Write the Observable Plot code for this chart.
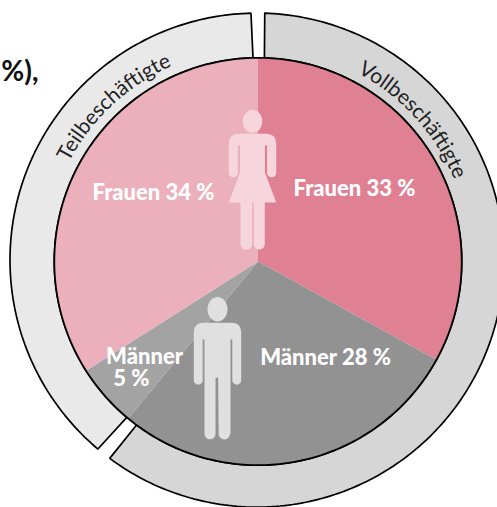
<!DOCTYPE html>
<html lang="de">
<head>
<meta charset="utf-8">
<style>
html,body{margin:0;padding:0;background:#fff;overflow:hidden}
svg{display:block}
</style>
<script src="https://cdn.jsdelivr.net/npm/d3@7"></script>
<script src="https://cdn.jsdelivr.net/npm/@observablehq/plot@0.6"></script>
</head>
<body>
<div id="chart"></div>
<script>
// ---- values ----
const sliceNames  = ["Frauen Vollzeit", "Männer Vollzeit", "Männer Teilzeit", "Frauen Teilzeit"];
const sliceShares = [33, 28, 5, 34];
const ringNames   = ["Vollbeschäftigte", "Teilbeschäftigte"];
const labelTexts  = ["Frauen 34 %", "Frauen 33 %", "Männer 28 %", "Männer\n5 %\u00a0\u00a0\u00a0\u00a0\u00a0"];
const titleTail   = "%),";

// ---- styles and layout, kept apart from the values ----
const W = 497, H = 507;
const sliceColors = ["#df8093", "#929292", "#a3a3a3", "#ecb0bd"];
const ringColors  = ["#d6d6d6", "#e9e9e9"];
const CX = 257.5, CY = 261, R = 203.7, RO = 247;
const ringOffset = [-1, -1.4];
const ringSpans = [[1.8, 216.6], [220.1, 358.6]];     // degrees clockwise from the top
const ringTextSpans = [[29.5, 66], [-61.5, -24.5]];
const ringTextRadius = 213;
const labelX = [153, 354, 325, 144];
const labelY = [200, 196, 365, 386];
const FONT = "Lato, 'Open Sans', sans-serif";

const pt = (deg, r, ox = 0, oy = 0) => {
  const a = deg * Math.PI / 180;
  return [ox + r * Math.sin(a), oy - r * Math.cos(a)];
};
const arc = (a0, a1, r, ox, oy) => {
  const n = Math.max(2, Math.ceil(Math.abs(a1 - a0)));
  return d3.range(n + 1).map(i => pt(a0 + (a1 - a0) * i / n, r, ox, oy));
};

// pie slices
let acc = 0;
const slicePoly = [];
sliceShares.forEach((s, i) => {
  const a0 = acc * 3.6, a1 = (acc + s) * 3.6; acc += s;
  [[0, 0], ...arc(a0, a1, R), [0, 0]].forEach(([x, y]) =>
    slicePoly.push({x, y, key: sliceNames[i], fill: sliceColors[i]}));
});
// ring segments
const ringPoly = [];
ringSpans.forEach(([a0, a1], i) => {
  const pts = [...arc(a0, a1, RO, ringOffset[0], ringOffset[1]), ...arc(a1, a0, R)];
  [...pts, pts[0]].forEach(([x, y]) =>
    ringPoly.push({x, y, key: ringNames[i], fill: ringColors[i]}));
});
const circle = arc(0, 360, R).map(([x, y]) => ({x, y}));

// pictograms as custom symbols, drawn relative to the dot's position
const head = (c, cy, rx, ry) => {
  c.moveTo(rx, cy);
  for (let k = 1; k <= 48; k++) {
    const t = k / 48 * 2 * Math.PI;
    c.lineTo(rx * Math.cos(t), cy + ry * Math.sin(t));
  }
  c.closePath();
};
const personWoman = {
  draw(c) {
    head(c, -65.2, 9.7, 11.5);
    c.moveTo(-13.7, -52.7);
    c.lineTo(13.7, -52.7);
    c.quadraticCurveTo(23.7, -52.7, 23.7, -42.7);
    c.lineTo(23.7, -13.7);
    c.arc(19.15, -13.7, 4.55, 0, Math.PI);
    c.lineTo(14.6, -41);
    c.lineTo(12.4, -41);
    c.lineTo(12.4, -14);
    c.lineTo(23.7, 16);
    c.lineTo(12.3, 16);
    c.lineTo(12.3, 57.5);
    c.arc(6.8, 57.5, 5.5, 0, Math.PI);
    c.lineTo(1.3, 16);
    c.lineTo(-0.3, 16);
    c.lineTo(-0.3, 57.5);
    c.arc(-6.15, 57.5, 5.85, 0, Math.PI);
    c.lineTo(-12, 16);
    c.lineTo(-23.7, 16);
    c.lineTo(-12.4, -14);
    c.lineTo(-12.4, -41);
    c.lineTo(-14.6, -41);
    c.lineTo(-14.6, -13.7);
    c.arc(-19.15, -13.7, 4.55, 0, Math.PI);
    c.lineTo(-23.7, -42.7);
    c.quadraticCurveTo(-23.7, -52.7, -13.7, -52.7);
    c.closePath();
  }
};
const personMan = {
  draw(c) {
    head(c, -64.2, 10, 12.2);
    c.moveTo(-14, -50.7);
    c.lineTo(14, -50.7);
    c.quadraticCurveTo(23.7, -50.7, 23.7, -41);
    c.lineTo(23.7, 6.7);
    c.arc(19.25, 6.7, 4.45, 0, Math.PI);
    c.lineTo(14.8, -34);
    c.lineTo(13, -34);
    c.lineTo(13, 60.3);
    c.arc(6.85, 60.3, 5.7, 0, Math.PI);
    c.lineTo(0.7, 4.3);
    c.lineTo(-2, 4.3);
    c.lineTo(-2, 60.3);
    c.arc(-7.5, 60.3, 5.5, 0, Math.PI);
    c.lineTo(-13, -34);
    c.lineTo(-14.8, -34);
    c.lineTo(-14.8, 6.7);
    c.arc(-19.25, 6.7, 4.45, 0, Math.PI);
    c.lineTo(-23.7, -41);
    c.quadraticCurveTo(-23.7, -50.7, -14, -50.7);
    c.closePath();
  }
};

// curved ring captions: one real <text> each, its path built through the plot's scales
function ringCaptions(index, scales) {
  const g = d3.create("svg:g");
  ringNames.forEach((name, i) => {
    const [a0, a1] = ringTextSpans[i];
    const p = d3.path();
    arc(a0 - 6, a1 + 6, ringTextRadius).forEach(([x, y], k) =>
      k ? p.lineTo(scales.x(x), scales.y(y)) : p.moveTo(scales.x(x), scales.y(y)));
    const id = "ring-text-" + i;
    g.append("path").attr("id", id).attr("d", p.toString()).attr("fill", "none");
    g.append("text")
      .attr("font-family", FONT).attr("font-size", 21).attr("fill", "#222")
      .attr("text-anchor", "middle")
      .append("textPath").attr("href", "#" + id).attr("startOffset", "50%").text(name);
  });
  return g.node();
}

const labels = labelTexts.map((t, i) => ({t, x: labelX[i] - CX, y: labelY[i] - CY}));

const plot = Plot.plot({
  width: W, height: H,
  margin: 0,
  style: {background: "#fff", overflow: "hidden"},
  x: {domain: [-CX, W - CX], range: [0, W], axis: null},
  y: {domain: [-CY, H - CY], range: [0, H], axis: null},
  marks: [
    Plot.line(ringPoly, {x: "x", y: "y", z: "key", fill: "fill", stroke: "#000", strokeWidth: 1.7, curve: "linear", strokeLinejoin: "miter"}),
    Plot.line(slicePoly, {x: "x", y: "y", z: "key", fill: "fill", stroke: "none", curve: "linear"}),
    Plot.line(circle, {x: "x", y: "y", stroke: "#000", strokeWidth: 1.8, curve: "linear"}),
    Plot.dot([{x: 252 - CX, y: 186 - CY}], {x: "x", y: "y", symbol: personWoman, r: 10, fill: "#f6d5dd", stroke: "none"}),
    Plot.dot([{x: 217 - CX, y: 373 - CY}], {x: "x", y: "y", symbol: personMan, r: 10, fill: "#e0e0e0", stroke: "none"}),
    ringCaptions,
    Plot.text(labels, {x: "x", y: "y", text: "t", fill: "#fff", fontFamily: FONT, fontWeight: 900, fontSize: 22, lineHeight: 0.96, textAnchor: "middle", lineAnchor: "bottom", dy: -1, style: {letterSpacing: "0.6px", wordSpacing: "3px"}}),
    Plot.text([{x: 38 - CX, y: 82 - CY}], {x: "x", y: "y", text: () => titleTail, fill: "#111", fontFamily: FONT, fontWeight: 700, fontSize: 28, textAnchor: "end", lineAnchor: "bottom", dy: -2})
  ]
});
document.getElementById("chart").appendChild(plot);
</script>
</body>
</html>
